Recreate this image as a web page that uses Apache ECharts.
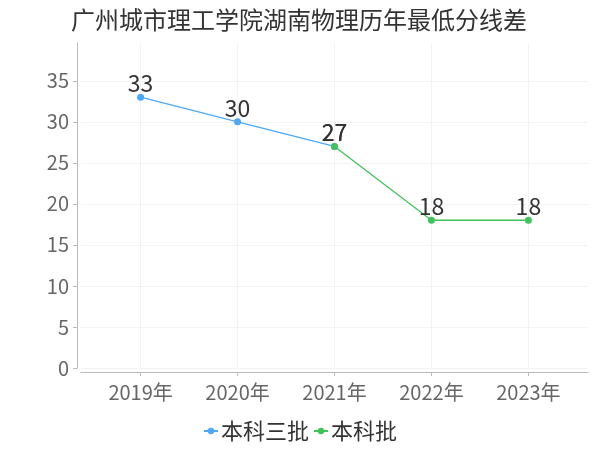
<!DOCTYPE html>
<html>
<head>
<meta charset="utf-8">
<script src="https://cdn.jsdelivr.net/npm/echarts@6/dist/echarts.min.js"></script>
<style>html,body{margin:0;padding:0;background:#fff}#c{width:600px;height:450px}</style>
</head>
<body>
<div id="c"></div>
<script>
var titleText = '广州城市理工学院湖南物理历年最低分线差';
var categories = ['2019年', '2020年', '2021年', '2022年', '2023年'];
var seriesNames = ['本科三批', '本科批'];
var values3 = [33, 30, 27, null, null];
var valuesB = [null, null, 27, 18, 18];
var yTicks = [0, 5, 10, 15, 20, 25, 30, 35];

function toPairs(arr) {
  var out = [];
  arr.forEach(function (v, i) { if (v !== null) out.push([i, v]); });
  return out;
}
var idx = categories.map(function (c, i) { return i; });
var FONT = '"Noto Sans CJK SC", "Noto Sans", sans-serif';

var chart = echarts.init(document.getElementById('c'), null, {renderer: 'canvas'});
chart.setOption({
  animation: false,
  backgroundColor: '#fff',
  title: {
    text: titleText, left: 66, top: 3,
    textStyle: {fontSize: 24, fontWeight: 'normal', color: '#333', fontFamily: FONT}
  },
  legend: {
    bottom: 3, left: 'center', itemWidth: 14, itemHeight: 8, itemGap: 4,
    textStyle: {fontSize: 22, color: '#333', fontFamily: FONT, padding: [0, 0, 0, -2]},
    data: seriesNames
  },
  grid: {left: 81, right: 12, top: 43, bottom: 82, containLabel: false},
  xAxis: {
    type: 'value', min: -0.615, max: 4.615, offset: 4,
    axisLine: {show: true, onZero: false, lineStyle: {color: '#bbb', width: 1}},
    axisTick: {show: true, length: 4, customValues: idx, lineStyle: {color: '#bbb'}},
    axisLabel: {
      customValues: idx, margin: 10, fontSize: 20, color: '#666', fontFamily: FONT,
      formatter: function (v) { return categories[Math.round(v)] || ''; }
    },
    splitLine: {show: true, lineStyle: {color: '#f3f3f3', width: 1}}
  },
  yAxis: {
    type: 'value', min: 0, max: 39.6, interval: 5, offset: 4,
    axisLine: {show: true, onZero: false, lineStyle: {color: '#bbb', width: 1}},
    axisTick: {show: true, length: 4, customValues: yTicks, lineStyle: {color: '#bbb'}},
    axisLabel: {customValues: yTicks, margin: 8, fontSize: 20, color: '#666', fontFamily: FONT},
    splitLine: {show: true, lineStyle: {color: '#f3f3f3', width: 1}}
  },
  series: [
    {
      name: seriesNames[0], type: 'line', data: toPairs(values3),
      symbol: 'circle', symbolSize: 7,
      itemStyle: {color: '#4da8f7'}, lineStyle: {width: 1.3, color: '#4da8f7'},
      label: {show: true, position: 'top', distance: -1, fontSize: 23, color: '#333', fontFamily: FONT}
    },
    {
      name: seriesNames[1], type: 'line', data: toPairs(valuesB),
      symbol: 'circle', symbolSize: 7,
      itemStyle: {color: '#40c45a'}, lineStyle: {width: 1.3, color: '#40c45a'},
      label: {show: true, position: 'top', distance: -1, fontSize: 23, color: '#333', fontFamily: FONT}
    }
  ]
});
</script>
</body>
</html>
